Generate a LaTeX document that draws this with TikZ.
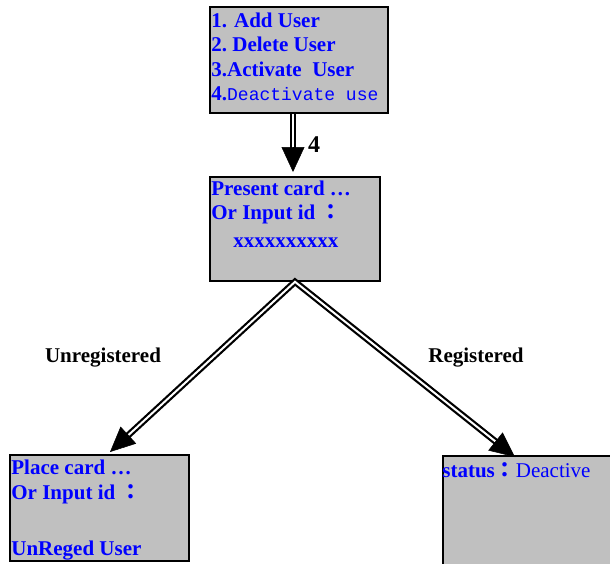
\documentclass[tikz,border=0pt]{standalone}
\usepackage{fontspec}
\setmainfont{Liberation Serif}
\setmonofont{Liberation Mono}
\newfontfamily\cjk{Noto Sans CJK TC}
\usetikzlibrary{arrows.meta,calc}

\definecolor{panel}{RGB}{192,192,192}
\definecolor{ink}{RGB}{0,0,255}
\newcommand{\fcolon}{{\cjk ：}}

\begin{document}
\begin{tikzpicture}[x=1pt,y=-1pt]

\clip (0,0) rectangle (610,563);

\tikzset{
  screen/.style={draw=black, line width=1.6pt, fill=panel, inner sep=0pt},
  txt/.style={text=ink, font=\fontsize{21}{24.5}\selectfont\bfseries, align=left, anchor=north west, inner sep=0pt},
  lbl/.style={font=\fontsize{21}{24}\selectfont\bfseries, inner sep=0pt},
  dbl/.style={double, double distance=2pt, line width=2.2pt},
  tip/.style={-{Triangle[length=25pt,width=23pt]}, line width=0.5pt}
}

% screens
\node[screen, minimum width=178, minimum height=106] (menu) at (299,60) {};
\node[screen, minimum width=170, minimum height=104] (prompt) at (295,229) {};
\node[screen, minimum width=179, minimum height=106] (unreg) at (99.5,508) {};
\node[screen, minimum width=175, minimum height=115] (reg) at (530.5,513.5) {};

% screen texts
\node[txt] (menutxt) at ([shift={(2,6.5)}]menu.north west)
  {1. Add User\\ 2.\ Delete User\\ 3.Activate\ \ User\\
   4.{\mdseries\ttfamily\fontsize{18}{24.5}\selectfont Deactivate use}};
\node[txt] (prompttxt) at ([shift={(2,4.5)}]prompt.north west)
  {Present card \ldots\\ Or Input id \fcolon\\[3pt] \hspace*{22pt}xxxxxxxxxx};
\node[txt] (unregtxt) at ([shift={(2,6)}]unreg.north west)
  {Place card \ldots\\ Or Input id \fcolon\\[32pt] UnReged User};
\node[txt] (regtxt) at ([shift={(0,7)}]reg.north west)
  {status\fcolon{\mdseries Deactive}};

% connectors
\coordinate (dTip) at (293,172);
\coordinate (uTip) at (110,452);
\coordinate (rTip) at (515,457);
\draw[dbl, shorten >=20pt] (menu.south -| dTip) -- (dTip);
\draw[tip] ($(dTip)!25pt!(menu.south -| dTip)$) -- (dTip);
\draw[dbl, shorten <=20pt, shorten >=20pt] (uTip) -- (prompt.south) -- (rTip);
\draw[tip] ($(uTip)!25pt!(prompt.south)$) -- (uTip);
\draw[tip] ($(rTip)!25pt!(prompt.south)$) -- (rTip);

% labels
\node[lbl, font=\fontsize{24}{24}\selectfont\bfseries] (four) at (314,145) {4};
\node[lbl] (nolbl) at (103,358) {Unregistered};
\node[lbl] (yeslbl) at (476,358) {Registered};

\end{tikzpicture}
\end{document}
